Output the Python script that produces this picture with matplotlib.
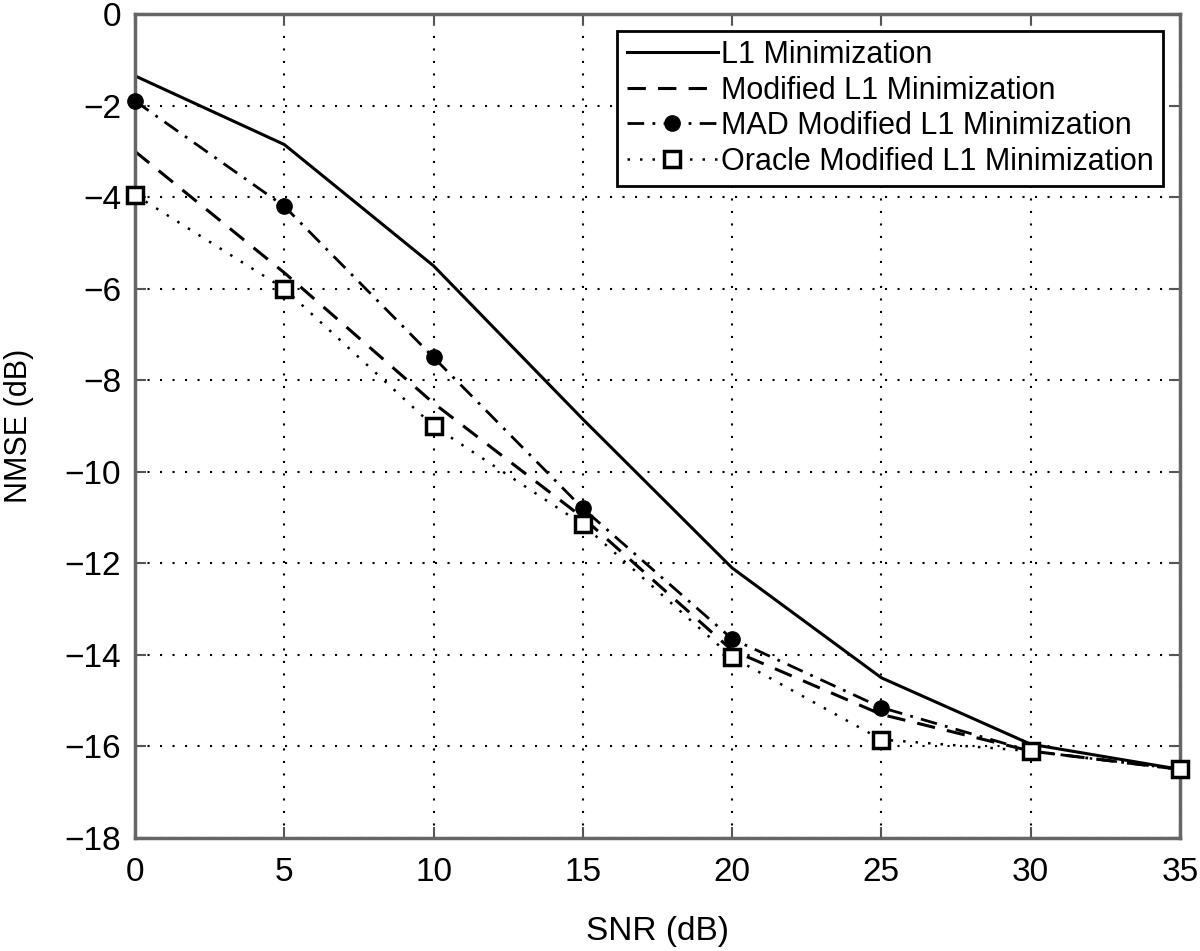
import matplotlib
matplotlib.use("Agg")
import matplotlib.pyplot as plt
from matplotlib import font_manager

# --- dados ---
snr_db = [0, 5, 10, 15, 20, 25, 30, 35]
nmse_l1 = [-1.35, -2.85, -5.5, -8.85, -12.1, -14.5, -15.95, -16.5]
nmse_mod_l1 = [-3.0, -5.65, -8.5, -11.0, -13.9, -15.3, -16.1, -16.5]
nmse_mad_l1 = [-1.9, -4.2, -7.5, -10.8, -13.65, -15.15, -16.1, -16.5]
nmse_oracle_l1 = [-3.95, -6.0, -9.0, -11.15, -14.05, -15.85, -16.1, -16.5]

rotulos = ["L1 Minimization", "Modified L1 Minimization",
           "MAD Modified L1 Minimization", "Oracle Modified L1 Minimization"]
xticks = [0, 5, 10, 15, 20, 25, 30, 35]
yticks = [0, -2, -4, -6, -8, -10, -12, -14, -16, -18]

nomes = {f.name for f in font_manager.fontManager.ttflist}
fonte_estreita = "Liberation Sans Narrow" if "Liberation Sans Narrow" in nomes else "Liberation Sans"

plt.rcParams['font.family'] = ['Liberation Sans', 'DejaVu Sans']

fig = plt.figure(figsize=(12, 9.51), dpi=100)
ax = fig.add_axes([0.1125, 0.1188, 0.8708, 0.8664])

ax.plot(snr_db, nmse_l1, color='black', lw=2.2, linestyle='-', label=rotulos[0])
ax.plot(snr_db, nmse_mod_l1, color='black', lw=2.2, linestyle=(0, (6, 4)), label=rotulos[1])
ax.plot(snr_db, nmse_mad_l1, color='black', lw=2.0, linestyle=(0, (6, 3, 1, 3)),
        marker='o', markersize=11, markerfacecolor='black', markeredgecolor='black',
        label=rotulos[2], clip_on=False, zorder=4)
ax.plot(snr_db, nmse_oracle_l1, color='black', lw=1.8, linestyle=(0, (1, 4)),
        marker='s', markersize=11, markerfacecolor='white', markeredgecolor='black',
        markeredgewidth=2.5, label=rotulos[3], clip_on=False, zorder=4)

ax.set_xlim(0, 35)
ax.set_ylim(-18, 0)
ax.set_xticks(xticks)
ax.set_yticks(yticks)
ax.set_xticklabels([str(t) for t in xticks], fontfamily=fonte_estreita, fontsize=24)
ax.set_yticklabels([str(t).replace('-', '\u2212') for t in yticks],
                   fontfamily=fonte_estreita, fontsize=24)
ax.tick_params(direction='in', length=8, width=1.5, color='#555555',
               top=True, right=True, pad=10)
ax.tick_params(axis='x', pad=14)

ax.grid(True, color='black', linestyle=(0, (1, 5)), linewidth=1.5)
for lado in ax.spines.values():
    lado.set_color('#666666')
    lado.set_linewidth(2.5)

ax.set_xlabel('SNR (dB)', fontfamily=fonte_estreita, fontsize=24, labelpad=20)
ax.set_ylabel('NMSE (dB)', fontsize=22, labelpad=22)

leg = ax.legend(loc='upper right', fontsize=22, handlelength=3.0, handletextpad=0.1,
                labelspacing=0.18, borderaxespad=0.55, fancybox=False,
                framealpha=1, borderpad=0.3)
leg.get_frame().set_edgecolor('black')
leg.get_frame().set_linewidth(2.0)
leg.set_zorder(5)

fig.savefig('out.png', dpi=100)
